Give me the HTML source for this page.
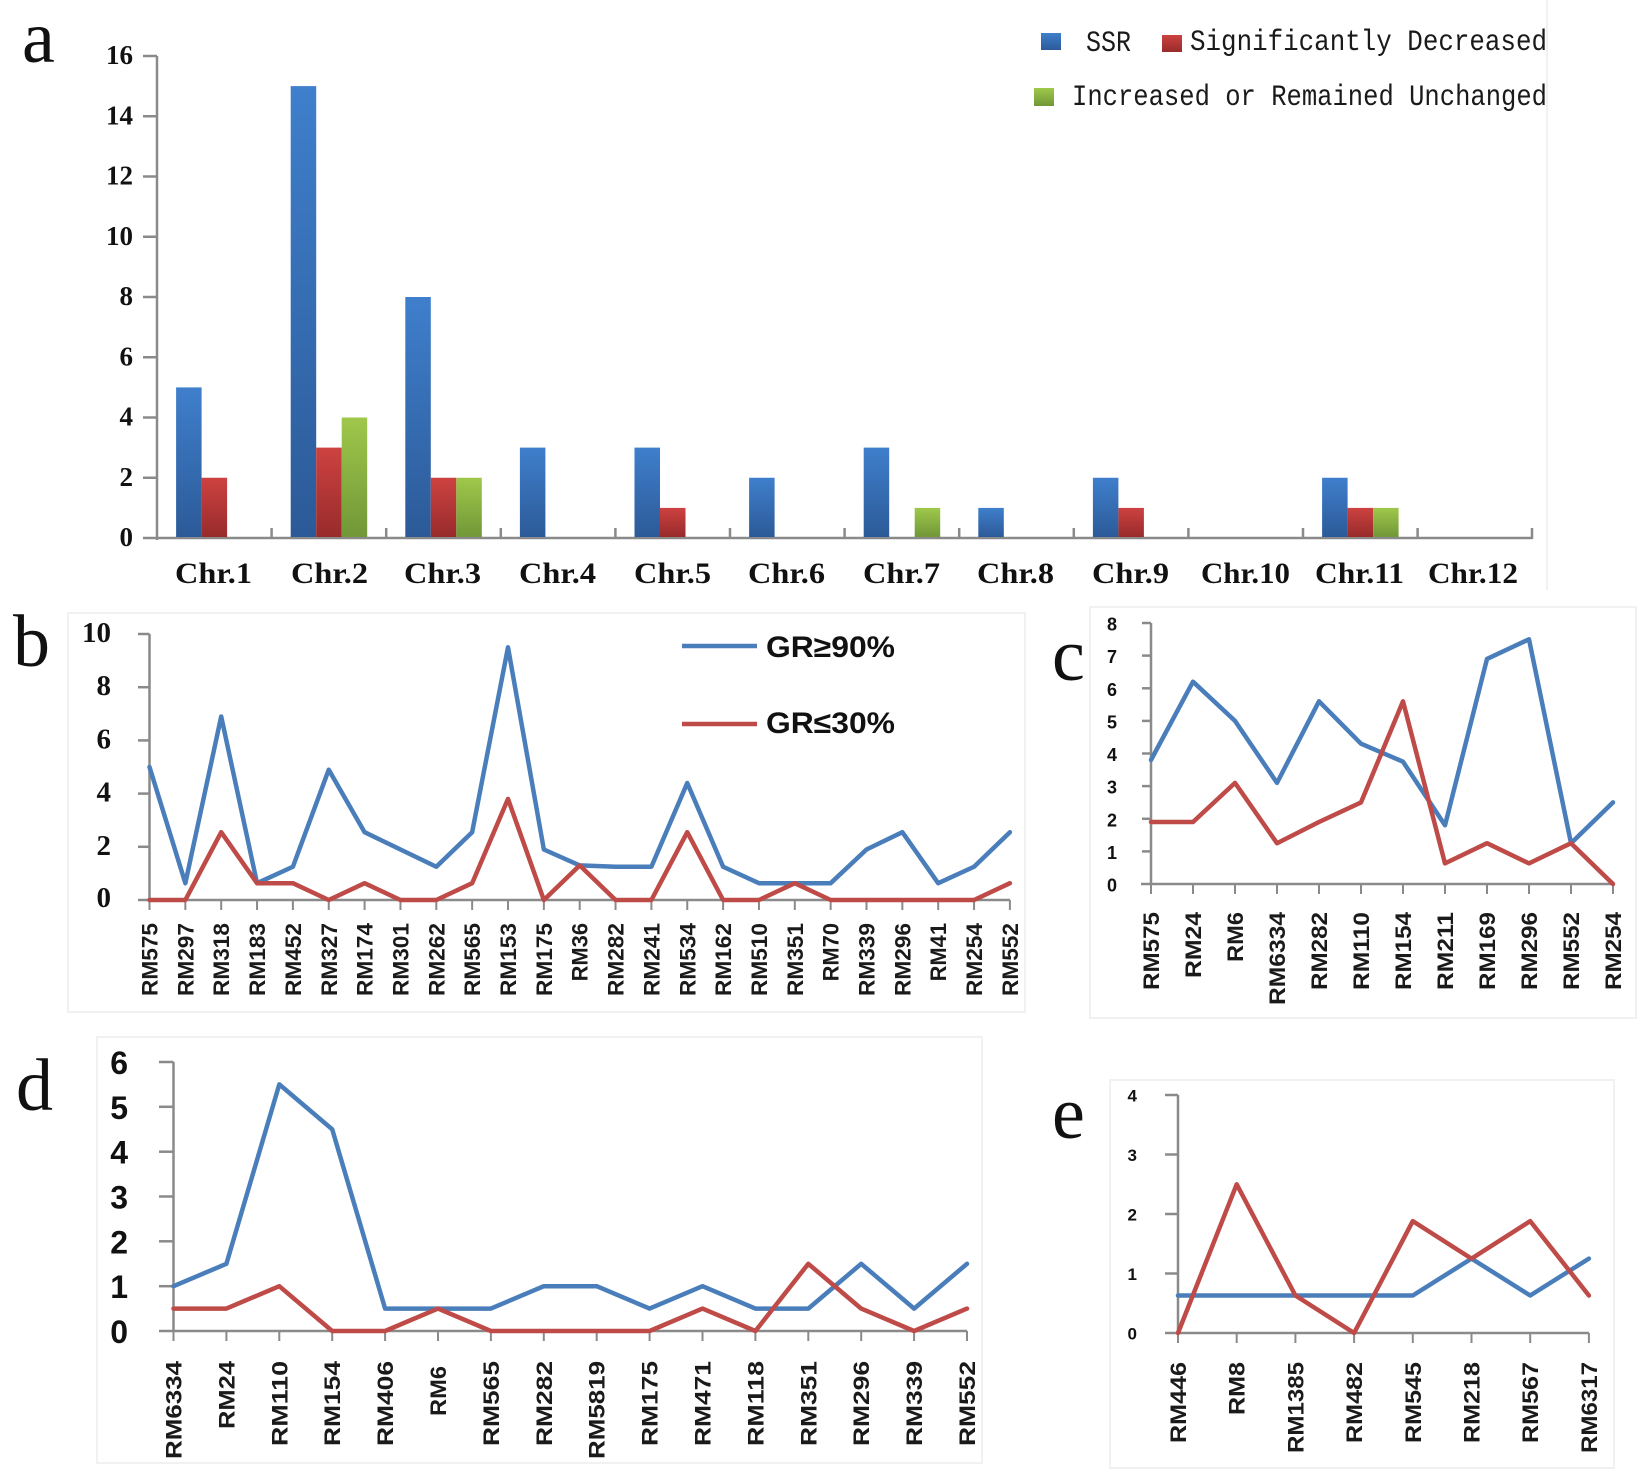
<!DOCTYPE html>
<html>
<head>
<meta charset="utf-8">
<style>
html,body{margin:0;padding:0;background:#fff;}
svg{display:block;}
.ser{font-family:"Liberation Serif",serif;}
.sans{font-family:"Liberation Sans",sans-serif;}
.mono{font-family:"Liberation Mono",monospace;}
</style>
</head>
<body>
<svg width="1652" height="1478" viewBox="0 0 1652 1478" xmlns="http://www.w3.org/2000/svg">
<defs>
<linearGradient id="gb" x1="0" y1="0" x2="0" y2="1"><stop offset="0" stop-color="#3f7fcc"/><stop offset="1" stop-color="#2c5a98"/></linearGradient>
<linearGradient id="gr" x1="0" y1="0" x2="0" y2="1"><stop offset="0" stop-color="#cd4241"/><stop offset="1" stop-color="#982b2b"/></linearGradient>
<linearGradient id="gg" x1="0" y1="0" x2="0" y2="1"><stop offset="0" stop-color="#9fc84b"/><stop offset="1" stop-color="#719737"/></linearGradient>
</defs>
<rect width="1652" height="1478" fill="#fff"/>

<!-- faint frames -->
<g fill="none" stroke="#f1f1f1" stroke-width="2">
<line x1="1547" y1="0" x2="1547" y2="590"/>
<rect x="68" y="613" width="957" height="399"/>
<rect x="1090" y="607" width="546" height="411"/>
<rect x="97" y="1037" width="885" height="426"/>
<rect x="1110" y="1080" width="504" height="388"/>
</g>

<!-- ================= Panel a ================= -->
<text class="ser" x="22" y="62" font-size="74" fill="#111">a</text>
<g class="ser" font-size="27" font-weight="bold" fill="#111" text-anchor="end">
<text x="133" y="64">16</text>
<text x="133" y="124.3">14</text>
<text x="133" y="184.5">12</text>
<text x="133" y="244.8">10</text>
<text x="133" y="305">8</text>
<text x="133" y="365.3">6</text>
<text x="133" y="425.5">4</text>
<text x="133" y="485.8">2</text>
<text x="133" y="546">0</text>
</g>
<g stroke="#8a8a8a" stroke-width="2.5">
<line x1="157" y1="56" x2="157" y2="540"/>
<line x1="143" y1="56" x2="157" y2="56"/>
<line x1="143" y1="116.25" x2="157" y2="116.25"/>
<line x1="143" y1="176.5" x2="157" y2="176.5"/>
<line x1="143" y1="236.75" x2="157" y2="236.75"/>
<line x1="143" y1="297" x2="157" y2="297"/>
<line x1="143" y1="357.25" x2="157" y2="357.25"/>
<line x1="143" y1="417.5" x2="157" y2="417.5"/>
<line x1="143" y1="477.75" x2="157" y2="477.75"/>
<line x1="143" y1="538" x2="1532" y2="538"/>
<line x1="271.6" y1="528" x2="271.6" y2="539"/>
<line x1="386.2" y1="528" x2="386.2" y2="539"/>
<line x1="500.8" y1="528" x2="500.8" y2="539"/>
<line x1="615.4" y1="528" x2="615.4" y2="539"/>
<line x1="730" y1="528" x2="730" y2="539"/>
<line x1="844.6" y1="528" x2="844.6" y2="539"/>
<line x1="959.2" y1="528" x2="959.2" y2="539"/>
<line x1="1073.8" y1="528" x2="1073.8" y2="539"/>
<line x1="1188.4" y1="528" x2="1188.4" y2="539"/>
<line x1="1303" y1="528" x2="1303" y2="539"/>
<line x1="1417.6" y1="528" x2="1417.6" y2="539"/>
<line x1="1532" y1="528" x2="1532" y2="539"/>
</g>
<!-- bars -->
<g>
<rect x="176.1" y="387.4" width="25.5" height="149.6" fill="url(#gb)"/>
<rect x="201.6" y="477.75" width="25.5" height="59.25" fill="url(#gr)"/>
<rect x="290.7" y="86.1" width="25.5" height="450.9" fill="url(#gb)"/>
<rect x="316.2" y="447.6" width="25.5" height="89.4" fill="url(#gr)"/>
<rect x="341.7" y="417.5" width="25.5" height="119.5" fill="url(#gg)"/>
<rect x="405.3" y="297" width="25.5" height="240" fill="url(#gb)"/>
<rect x="430.8" y="477.75" width="25.5" height="59.25" fill="url(#gr)"/>
<rect x="456.3" y="477.75" width="25.5" height="59.25" fill="url(#gg)"/>
<rect x="519.9" y="447.6" width="25.5" height="89.4" fill="url(#gb)"/>
<rect x="634.5" y="447.6" width="25.5" height="89.4" fill="url(#gb)"/>
<rect x="660" y="507.9" width="25.5" height="29.1" fill="url(#gr)"/>
<rect x="749.1" y="477.75" width="25.5" height="59.25" fill="url(#gb)"/>
<rect x="863.7" y="447.6" width="25.5" height="89.4" fill="url(#gb)"/>
<rect x="914.7" y="507.9" width="25.5" height="29.1" fill="url(#gg)"/>
<rect x="978.3" y="507.9" width="25.5" height="29.1" fill="url(#gb)"/>
<rect x="1092.9" y="477.75" width="25.5" height="59.25" fill="url(#gb)"/>
<rect x="1118.4" y="507.9" width="25.5" height="29.1" fill="url(#gr)"/>
<rect x="1322.1" y="477.75" width="25.5" height="59.25" fill="url(#gb)"/>
<rect x="1347.6" y="507.9" width="25.5" height="29.1" fill="url(#gr)"/>
<rect x="1373.1" y="507.9" width="25.5" height="29.1" fill="url(#gg)"/>
</g>
<g class="ser" font-size="30" font-weight="bold" fill="#111" text-anchor="start" lengthAdjust="spacingAndGlyphs">
<text x="175" y="583" textLength="77" lengthAdjust="spacingAndGlyphs">Chr.1</text>
<text x="291" y="583" textLength="77" lengthAdjust="spacingAndGlyphs">Chr.2</text>
<text x="404" y="583" textLength="77" lengthAdjust="spacingAndGlyphs">Chr.3</text>
<text x="519" y="583" textLength="77" lengthAdjust="spacingAndGlyphs">Chr.4</text>
<text x="634" y="583" textLength="77" lengthAdjust="spacingAndGlyphs">Chr.5</text>
<text x="748" y="583" textLength="77" lengthAdjust="spacingAndGlyphs">Chr.6</text>
<text x="863" y="583" textLength="77" lengthAdjust="spacingAndGlyphs">Chr.7</text>
<text x="977" y="583" textLength="77" lengthAdjust="spacingAndGlyphs">Chr.8</text>
<text x="1092" y="583" textLength="77" lengthAdjust="spacingAndGlyphs">Chr.9</text>
<text x="1201" y="583" textLength="89" lengthAdjust="spacingAndGlyphs">Chr.10</text>
<text x="1315" y="583" textLength="89" lengthAdjust="spacingAndGlyphs">Chr.11</text>
<text x="1428" y="583" textLength="90" lengthAdjust="spacingAndGlyphs">Chr.12</text>
</g>
<!-- legend a -->
<rect x="1041" y="33" width="20" height="17" fill="url(#gb)"/>
<rect x="1162" y="35" width="20" height="17" fill="url(#gr)"/>
<rect x="1034" y="88" width="20" height="18" fill="url(#gg)"/>
<g class="mono" font-size="30" fill="#1a1a1a">
<text x="1086" y="51" textLength="45" lengthAdjust="spacingAndGlyphs">SSR</text>
<text x="1190" y="50" textLength="357" lengthAdjust="spacingAndGlyphs">Significantly Decreased</text>
<text x="1072" y="105" textLength="475" lengthAdjust="spacingAndGlyphs">Increased or Remained Unchanged</text>
</g>

<!-- ================= Panel b ================= -->
<text class="ser" x="13" y="666" font-size="74" fill="#111">b</text>
<g class="ser" font-size="29" font-weight="bold" fill="#111" text-anchor="end">
<text x="111" y="642">10</text>
<text x="111" y="695.2">8</text>
<text x="111" y="748.4">6</text>
<text x="111" y="801.6">4</text>
<text x="111" y="854.8">2</text>
<text x="111" y="907">0</text>
</g>
<g stroke="#8a8a8a" stroke-width="2.5">
<line x1="149.5" y1="634" x2="149.5" y2="900"/>
<line x1="138" y1="900" x2="1010" y2="900"/>
<line x1="138" y1="634" x2="149.5" y2="634"/>
<line x1="138" y1="687.2" x2="149.5" y2="687.2"/>
<line x1="138" y1="740.4" x2="149.5" y2="740.4"/>
<line x1="138" y1="793.6" x2="149.5" y2="793.6"/>
<line x1="138" y1="846.8" x2="149.5" y2="846.8"/>
</g>
<g stroke="#8a8a8a" stroke-width="2">
<line x1="149.5" y1="900" x2="149.5" y2="910"/><line x1="185.35" y1="900" x2="185.35" y2="910"/><line x1="221.2" y1="900" x2="221.2" y2="910"/><line x1="257.05" y1="900" x2="257.05" y2="910"/><line x1="292.9" y1="900" x2="292.9" y2="910"/><line x1="328.75" y1="900" x2="328.75" y2="910"/><line x1="364.6" y1="900" x2="364.6" y2="910"/><line x1="400.45" y1="900" x2="400.45" y2="910"/><line x1="436.3" y1="900" x2="436.3" y2="910"/><line x1="472.15" y1="900" x2="472.15" y2="910"/><line x1="508" y1="900" x2="508" y2="910"/><line x1="543.85" y1="900" x2="543.85" y2="910"/><line x1="579.7" y1="900" x2="579.7" y2="910"/><line x1="615.55" y1="900" x2="615.55" y2="910"/><line x1="651.4" y1="900" x2="651.4" y2="910"/><line x1="687.25" y1="900" x2="687.25" y2="910"/><line x1="723.1" y1="900" x2="723.1" y2="910"/><line x1="758.95" y1="900" x2="758.95" y2="910"/><line x1="794.8" y1="900" x2="794.8" y2="910"/><line x1="830.65" y1="900" x2="830.65" y2="910"/><line x1="866.5" y1="900" x2="866.5" y2="910"/><line x1="902.35" y1="900" x2="902.35" y2="910"/><line x1="938.2" y1="900" x2="938.2" y2="910"/><line x1="974.05" y1="900" x2="974.05" y2="910"/><line x1="1009.9" y1="900" x2="1009.9" y2="910"/>
</g>
<g fill="none" stroke-width="4.5" stroke-linejoin="round" stroke-linecap="round">
<polyline stroke="#4a7ebb" points="149.5,767 185.35,883.2 221.2,716.5 257.05,883.2 292.9,866.75 328.75,769.7 364.6,832.2 400.45,849.5 436.3,866.75 472.15,832.2 508,647.3 543.85,849.5 579.7,865.4 615.55,866.75 651.4,866.75 687.25,783 723.1,866.75 758.95,883.2 794.8,883.2 830.65,883.2 866.5,849.5 902.35,832.2 938.2,883.2 974.05,866.75 1009.9,832.2"/>
<polyline stroke="#be4b48" points="149.5,900 185.35,900 221.2,832.2 257.05,883.2 292.9,883.2 328.75,900 364.6,883.2 400.45,900 436.3,900 472.15,883.2 508,798.9 543.85,900 579.7,865.4 615.55,900 651.4,900 687.25,832.2 723.1,900 758.95,900 794.8,883.2 830.65,900 866.5,900 902.35,900 938.2,900 974.05,900 1009.9,883.2"/>
</g>
<line x1="682" y1="646" x2="757" y2="646" stroke="#4a7ebb" stroke-width="4.5"/>
<line x1="682" y1="724" x2="757" y2="724" stroke="#be4b48" stroke-width="4.5"/>
<g class="sans" font-size="30" font-weight="bold" fill="#111">
<text x="766" y="657" textLength="129" lengthAdjust="spacingAndGlyphs">GR≥90%</text>
<text x="766" y="733" textLength="129" lengthAdjust="spacingAndGlyphs">GR≤30%</text>
</g>
<g class="sans" font-size="22" font-weight="bold" fill="#1a1a1a">
<text transform="translate(157.5,996) rotate(-90)" textLength="73" lengthAdjust="spacingAndGlyphs">RM575</text>
<text transform="translate(193.35,996) rotate(-90)" textLength="73" lengthAdjust="spacingAndGlyphs">RM297</text>
<text transform="translate(229.2,996) rotate(-90)" textLength="73" lengthAdjust="spacingAndGlyphs">RM318</text>
<text transform="translate(265.05,996) rotate(-90)" textLength="73" lengthAdjust="spacingAndGlyphs">RM183</text>
<text transform="translate(300.9,996) rotate(-90)" textLength="73" lengthAdjust="spacingAndGlyphs">RM452</text>
<text transform="translate(336.75,996) rotate(-90)" textLength="73" lengthAdjust="spacingAndGlyphs">RM327</text>
<text transform="translate(372.6,996) rotate(-90)" textLength="73" lengthAdjust="spacingAndGlyphs">RM174</text>
<text transform="translate(408.45,996) rotate(-90)" textLength="73" lengthAdjust="spacingAndGlyphs">RM301</text>
<text transform="translate(444.3,996) rotate(-90)" textLength="73" lengthAdjust="spacingAndGlyphs">RM262</text>
<text transform="translate(480.15,996) rotate(-90)" textLength="73" lengthAdjust="spacingAndGlyphs">RM565</text>
<text transform="translate(516,996) rotate(-90)" textLength="73" lengthAdjust="spacingAndGlyphs">RM153</text>
<text transform="translate(551.85,996) rotate(-90)" textLength="73" lengthAdjust="spacingAndGlyphs">RM175</text>
<text transform="translate(587.7,981.4) rotate(-90)" textLength="58.4" lengthAdjust="spacingAndGlyphs">RM36</text>
<text transform="translate(623.55,996) rotate(-90)" textLength="73" lengthAdjust="spacingAndGlyphs">RM282</text>
<text transform="translate(659.4,996) rotate(-90)" textLength="73" lengthAdjust="spacingAndGlyphs">RM241</text>
<text transform="translate(695.25,996) rotate(-90)" textLength="73" lengthAdjust="spacingAndGlyphs">RM534</text>
<text transform="translate(731.1,996) rotate(-90)" textLength="73" lengthAdjust="spacingAndGlyphs">RM162</text>
<text transform="translate(766.95,996) rotate(-90)" textLength="73" lengthAdjust="spacingAndGlyphs">RM510</text>
<text transform="translate(802.8,996) rotate(-90)" textLength="73" lengthAdjust="spacingAndGlyphs">RM351</text>
<text transform="translate(838.65,981.4) rotate(-90)" textLength="58.4" lengthAdjust="spacingAndGlyphs">RM70</text>
<text transform="translate(874.5,996) rotate(-90)" textLength="73" lengthAdjust="spacingAndGlyphs">RM339</text>
<text transform="translate(910.35,996) rotate(-90)" textLength="73" lengthAdjust="spacingAndGlyphs">RM296</text>
<text transform="translate(946.2,981.4) rotate(-90)" textLength="58.4" lengthAdjust="spacingAndGlyphs">RM41</text>
<text transform="translate(982.05,996) rotate(-90)" textLength="73" lengthAdjust="spacingAndGlyphs">RM254</text>
<text transform="translate(1017.9,996) rotate(-90)" textLength="73" lengthAdjust="spacingAndGlyphs">RM552</text>
</g>

<!-- ================= Panel c ================= -->
<text class="ser" x="1052" y="680" font-size="74" fill="#111">c</text>
<g class="sans" font-size="18" font-weight="bold" fill="#111" text-anchor="end">
<text x="1117" y="630.5">8</text>
<text x="1117" y="663.1">7</text>
<text x="1117" y="695.8">6</text>
<text x="1117" y="728.4">5</text>
<text x="1117" y="761">4</text>
<text x="1117" y="793.6">3</text>
<text x="1117" y="826.3">2</text>
<text x="1117" y="858.9">1</text>
<text x="1117" y="891.5">0</text>
</g>
<g stroke="#8a8a8a" stroke-width="2.5">
<line x1="1151" y1="623" x2="1151" y2="884"/>
<line x1="1141" y1="884" x2="1613" y2="884"/>
<line x1="1142" y1="623" x2="1151" y2="623"/>
<line x1="1142" y1="655.6" x2="1151" y2="655.6"/>
<line x1="1142" y1="688.3" x2="1151" y2="688.3"/>
<line x1="1142" y1="720.9" x2="1151" y2="720.9"/>
<line x1="1142" y1="753.5" x2="1151" y2="753.5"/>
<line x1="1142" y1="786.1" x2="1151" y2="786.1"/>
<line x1="1142" y1="818.8" x2="1151" y2="818.8"/>
<line x1="1142" y1="851.4" x2="1151" y2="851.4"/>
</g>
<g stroke="#8a8a8a" stroke-width="2">
<line x1="1151" y1="884" x2="1151" y2="894"/><line x1="1193" y1="884" x2="1193" y2="894"/><line x1="1235" y1="884" x2="1235" y2="894"/><line x1="1277" y1="884" x2="1277" y2="894"/><line x1="1319" y1="884" x2="1319" y2="894"/><line x1="1361" y1="884" x2="1361" y2="894"/><line x1="1403" y1="884" x2="1403" y2="894"/><line x1="1445" y1="884" x2="1445" y2="894"/><line x1="1487" y1="884" x2="1487" y2="894"/><line x1="1529" y1="884" x2="1529" y2="894"/><line x1="1571" y1="884" x2="1571" y2="894"/><line x1="1613" y1="884" x2="1613" y2="894"/>
</g>
<g fill="none" stroke-width="4.5" stroke-linejoin="round" stroke-linecap="round">
<polyline stroke="#4a7ebb" points="1151,760 1193,681.7 1235,720.9 1277,782.9 1319,701.3 1361,743.7 1403,761.7 1445,825.3 1487,658.9 1529,639.3 1571,843.2 1613,802.4"/>
<polyline stroke="#be4b48" points="1151,822 1193,822 1235,782.9 1277,843.2 1319,822 1361,802.4 1403,701.3 1445,863.4 1487,843.2 1529,863.4 1571,843.2 1613,884"/>
</g>
<g class="sans" font-size="22" font-weight="bold" fill="#1a1a1a">
<text transform="translate(1159,990) rotate(-90)" textLength="78" lengthAdjust="spacingAndGlyphs">RM575</text>
<text transform="translate(1201,978) rotate(-90)" textLength="66" lengthAdjust="spacingAndGlyphs">RM24</text>
<text transform="translate(1243,962) rotate(-90)" textLength="50" lengthAdjust="spacingAndGlyphs">RM6</text>
<text transform="translate(1285,1005) rotate(-90)" textLength="93" lengthAdjust="spacingAndGlyphs">RM6334</text>
<text transform="translate(1327,990) rotate(-90)" textLength="78" lengthAdjust="spacingAndGlyphs">RM282</text>
<text transform="translate(1369,990) rotate(-90)" textLength="78" lengthAdjust="spacingAndGlyphs">RM110</text>
<text transform="translate(1411,990) rotate(-90)" textLength="78" lengthAdjust="spacingAndGlyphs">RM154</text>
<text transform="translate(1453,990) rotate(-90)" textLength="78" lengthAdjust="spacingAndGlyphs">RM211</text>
<text transform="translate(1495,990) rotate(-90)" textLength="78" lengthAdjust="spacingAndGlyphs">RM169</text>
<text transform="translate(1537,990) rotate(-90)" textLength="78" lengthAdjust="spacingAndGlyphs">RM296</text>
<text transform="translate(1579,990) rotate(-90)" textLength="78" lengthAdjust="spacingAndGlyphs">RM552</text>
<text transform="translate(1621,990) rotate(-90)" textLength="78" lengthAdjust="spacingAndGlyphs">RM254</text>
</g>

<!-- ================= Panel d ================= -->
<text class="ser" x="16" y="1110" font-size="74" fill="#111">d</text>
<g class="sans" font-size="32" font-weight="bold" fill="#111" text-anchor="end">
<text x="128" y="1074">6</text>
<text x="128" y="1118.8">5</text>
<text x="128" y="1163.7">4</text>
<text x="128" y="1208.5">3</text>
<text x="128" y="1253.3">2</text>
<text x="128" y="1298.2">1</text>
<text x="128" y="1343">0</text>
</g>
<g stroke="#8a8a8a" stroke-width="2.5">
<line x1="173.5" y1="1062" x2="173.5" y2="1331"/>
<line x1="159" y1="1331" x2="967" y2="1331"/>
<line x1="159" y1="1062" x2="173.5" y2="1062"/>
<line x1="159" y1="1106.8" x2="173.5" y2="1106.8"/>
<line x1="159" y1="1151.7" x2="173.5" y2="1151.7"/>
<line x1="159" y1="1196.5" x2="173.5" y2="1196.5"/>
<line x1="159" y1="1241.3" x2="173.5" y2="1241.3"/>
<line x1="159" y1="1286.2" x2="173.5" y2="1286.2"/>
</g>
<g stroke="#8a8a8a" stroke-width="2">
<line x1="173.5" y1="1331" x2="173.5" y2="1341"/><line x1="226.4" y1="1331" x2="226.4" y2="1341"/><line x1="279.3" y1="1331" x2="279.3" y2="1341"/><line x1="332.2" y1="1331" x2="332.2" y2="1341"/><line x1="385.1" y1="1331" x2="385.1" y2="1341"/><line x1="438" y1="1331" x2="438" y2="1341"/><line x1="490.9" y1="1331" x2="490.9" y2="1341"/><line x1="543.8" y1="1331" x2="543.8" y2="1341"/><line x1="596.7" y1="1331" x2="596.7" y2="1341"/><line x1="649.6" y1="1331" x2="649.6" y2="1341"/><line x1="702.5" y1="1331" x2="702.5" y2="1341"/><line x1="755.4" y1="1331" x2="755.4" y2="1341"/><line x1="808.3" y1="1331" x2="808.3" y2="1341"/><line x1="861.2" y1="1331" x2="861.2" y2="1341"/><line x1="914.1" y1="1331" x2="914.1" y2="1341"/><line x1="967" y1="1331" x2="967" y2="1341"/>
</g>
<g fill="none" stroke-width="4.5" stroke-linejoin="round" stroke-linecap="round">
<polyline stroke="#4a7ebb" points="173.5,1286.2 226.4,1263.8 279.3,1084.4 332.2,1129.3 385.1,1308.6 438,1308.6 490.9,1308.6 543.8,1286.2 596.7,1286.2 649.6,1308.6 702.5,1286.2 755.4,1308.6 808.3,1308.6 861.2,1263.8 914.1,1308.6 967,1263.8"/>
<polyline stroke="#be4b48" points="173.5,1308.6 226.4,1308.6 279.3,1286.2 332.2,1331 385.1,1331 438,1308.6 490.9,1331 543.8,1331 596.7,1331 649.6,1331 702.5,1308.6 755.4,1331 808.3,1263.8 861.2,1308.6 914.1,1331 967,1308.6"/>
</g>
<g class="sans" font-size="22" font-weight="bold" fill="#1a1a1a">
<text transform="translate(181.5,1459) rotate(-90)" textLength="98" lengthAdjust="spacingAndGlyphs">RM6334</text>
<text transform="translate(234.4,1429) rotate(-90)" textLength="68" lengthAdjust="spacingAndGlyphs">RM24</text>
<text transform="translate(287.3,1446) rotate(-90)" textLength="85" lengthAdjust="spacingAndGlyphs">RM110</text>
<text transform="translate(340.2,1446) rotate(-90)" textLength="85" lengthAdjust="spacingAndGlyphs">RM154</text>
<text transform="translate(393.1,1446) rotate(-90)" textLength="85" lengthAdjust="spacingAndGlyphs">RM406</text>
<text transform="translate(446,1416) rotate(-90)" textLength="50" lengthAdjust="spacingAndGlyphs">RM6</text>
<text transform="translate(498.9,1446) rotate(-90)" textLength="85" lengthAdjust="spacingAndGlyphs">RM565</text>
<text transform="translate(551.8,1446) rotate(-90)" textLength="85" lengthAdjust="spacingAndGlyphs">RM282</text>
<text transform="translate(604.7,1459) rotate(-90)" textLength="98" lengthAdjust="spacingAndGlyphs">RM5819</text>
<text transform="translate(657.6,1446) rotate(-90)" textLength="85" lengthAdjust="spacingAndGlyphs">RM175</text>
<text transform="translate(710.5,1446) rotate(-90)" textLength="85" lengthAdjust="spacingAndGlyphs">RM471</text>
<text transform="translate(763.4,1446) rotate(-90)" textLength="85" lengthAdjust="spacingAndGlyphs">RM118</text>
<text transform="translate(816.3,1446) rotate(-90)" textLength="85" lengthAdjust="spacingAndGlyphs">RM351</text>
<text transform="translate(869.2,1446) rotate(-90)" textLength="85" lengthAdjust="spacingAndGlyphs">RM296</text>
<text transform="translate(922.1,1446) rotate(-90)" textLength="85" lengthAdjust="spacingAndGlyphs">RM339</text>
<text transform="translate(975,1446) rotate(-90)" textLength="85" lengthAdjust="spacingAndGlyphs">RM552</text>
</g>

<!-- ================= Panel e ================= -->
<text class="ser" x="1052" y="1138" font-size="74" fill="#111">e</text>
<g class="sans" font-size="17" font-weight="bold" fill="#111" text-anchor="end">
<text x="1137" y="1101.5">4</text>
<text x="1137" y="1161">3</text>
<text x="1137" y="1220.5">2</text>
<text x="1137" y="1280">1</text>
<text x="1137" y="1339.5">0</text>
</g>
<g stroke="#8a8a8a" stroke-width="2.5">
<line x1="1178" y1="1095" x2="1178" y2="1333"/>
<line x1="1165" y1="1333" x2="1589" y2="1333"/>
<line x1="1165" y1="1095" x2="1178" y2="1095"/>
<line x1="1165" y1="1154.5" x2="1178" y2="1154.5"/>
<line x1="1165" y1="1214" x2="1178" y2="1214"/>
<line x1="1165" y1="1273.5" x2="1178" y2="1273.5"/>
</g>
<g stroke="#8a8a8a" stroke-width="2">
<line x1="1178" y1="1333" x2="1178" y2="1343"/><line x1="1236.7" y1="1333" x2="1236.7" y2="1343"/><line x1="1295.4" y1="1333" x2="1295.4" y2="1343"/><line x1="1354.1" y1="1333" x2="1354.1" y2="1343"/><line x1="1412.8" y1="1333" x2="1412.8" y2="1343"/><line x1="1471.5" y1="1333" x2="1471.5" y2="1343"/><line x1="1530.2" y1="1333" x2="1530.2" y2="1343"/><line x1="1588.9" y1="1333" x2="1588.9" y2="1343"/>
</g>
<g fill="none" stroke-width="4.5" stroke-linejoin="round" stroke-linecap="round">
<polyline stroke="#4a7ebb" points="1178,1295.5 1236.7,1295.5 1295.4,1295.5 1354.1,1295.5 1412.8,1295.5 1471.5,1258.6 1530.2,1295.5 1588.9,1258.6"/>
<polyline stroke="#be4b48" points="1178,1333 1236.7,1184.3 1295.4,1295.5 1354.1,1333 1412.8,1221.1 1471.5,1258.6 1530.2,1221.1 1588.9,1295.5"/>
</g>
<g class="sans" font-size="22" font-weight="bold" fill="#1a1a1a">
<text transform="translate(1186,1443) rotate(-90)" textLength="81" lengthAdjust="spacingAndGlyphs">RM446</text>
<text transform="translate(1244.7,1415) rotate(-90)" textLength="53" lengthAdjust="spacingAndGlyphs">RM8</text>
<text transform="translate(1303.4,1453) rotate(-90)" textLength="91" lengthAdjust="spacingAndGlyphs">RM1385</text>
<text transform="translate(1362.1,1443) rotate(-90)" textLength="81" lengthAdjust="spacingAndGlyphs">RM482</text>
<text transform="translate(1420.8,1443) rotate(-90)" textLength="81" lengthAdjust="spacingAndGlyphs">RM545</text>
<text transform="translate(1479.5,1443) rotate(-90)" textLength="81" lengthAdjust="spacingAndGlyphs">RM218</text>
<text transform="translate(1538.2,1443) rotate(-90)" textLength="81" lengthAdjust="spacingAndGlyphs">RM567</text>
<text transform="translate(1596.9,1453) rotate(-90)" textLength="91" lengthAdjust="spacingAndGlyphs">RM6317</text>
</g>
</svg>
</body>
</html>
